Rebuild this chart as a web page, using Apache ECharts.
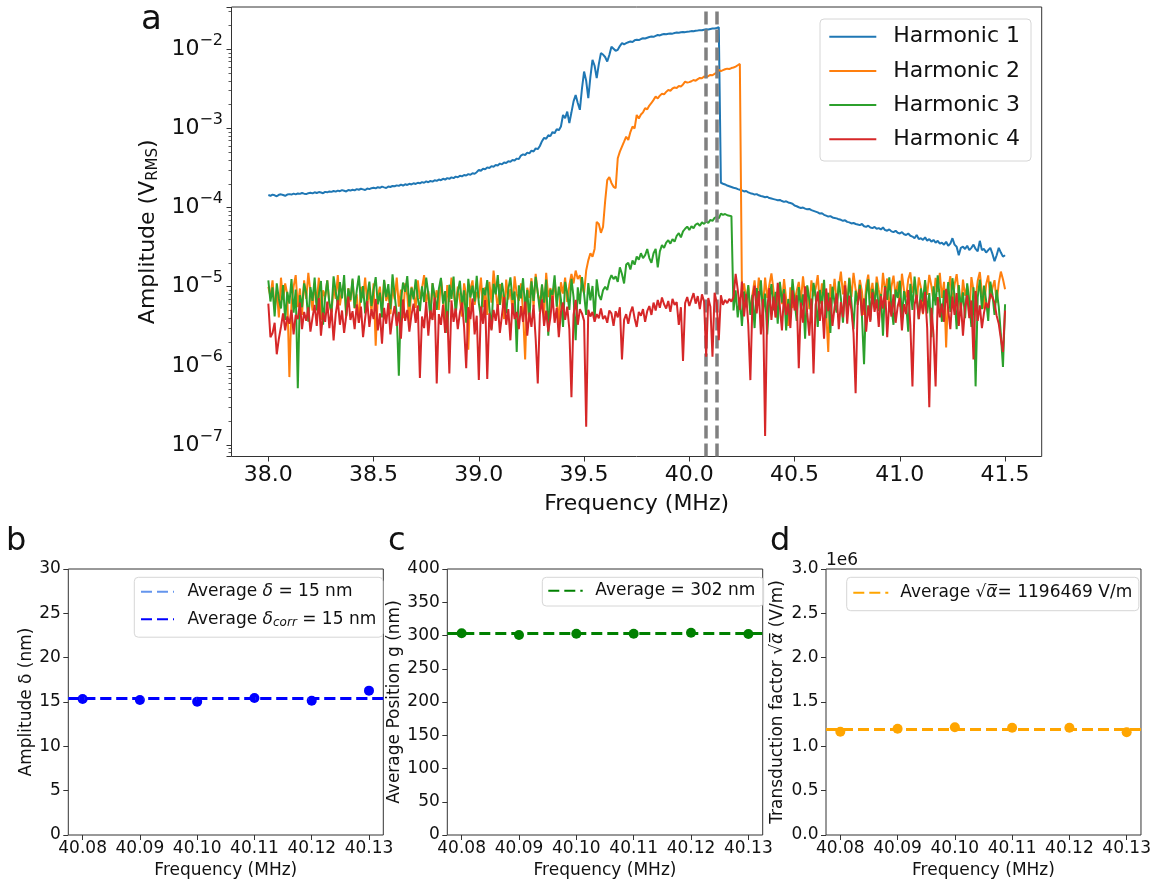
<!DOCTYPE html>
<html><head><meta charset="utf-8">
<script src="https://cdn.jsdelivr.net/npm/echarts@6/dist/echarts.min.js"></script>
<style>html,body{margin:0;padding:0;background:#fff}#c{width:1154px;height:884px}</style>
</head><body><div id="c"></div><script>
// ---------- Panel a: frequency sweep (38.00 .. 41.50 MHz, step 0.01), amplitudes in µV_RMS ----------
const freqStart = 38.0;
const freqStep = 0.01;
const harmonicNames = ['Harmonic 1', 'Harmonic 2', 'Harmonic 3', 'Harmonic 4'];
const h1 = [
144,141,146,143,139,145,147,144,141,146,
148,146,150,147,151,149,153,150,148,152,
154,151,156,153,157,155,152,158,156,160,
158,162,159,164,161,166,163,160,167,164,
168,165,171,168,173,170,167,174,171,176,
178,175,181,178,184,180,177,185,182,188,
186,191,188,195,190,197,193,200,196,203,
199,206,203,210,206,214,209,217,213,221,
218,226,222,231,226,236,231,241,236,246,
242,252,248,258,254,265,260,272,268,280,
300,292,310,305,322,316,334,328,346,340,
360,352,372,366,386,380,400,394,416,410,
455,470,462,495,485,525,512,560,548,600,
690,760,740,820,800,900,870,980,950,1060,
1480,1350,1630,1170,1600,2200,2650,2100,1720,3200,
5240,4000,2410,4500,7360,6200,4320,6500,8950,8600,
8000,7010,8500,10800,10200,9600,9860,11000,11970,11600,
12000,12300,12600,12400,13000,13200,13100,13500,13800,13700,
14000,14300,14500,14400,14800,15200,15000,15400,15600,15500,
15700,15900,15800,16100,16300,16200,16400,16600,16500,16700,
16800,17000,16900,17200,17300,17500,17400,17700,17900,17800,
18100,18300,18400,18600,19000,206,200,196,190,186,
182,178,176,171,168,165,160,162,156,152,
150,146,148,143,140,138,135,137,132,130,
128,126,124,125,121,118,120,116,114,112,
106,104,101,99,100,97,95,96,93,91,
89,87,84,85,81,79,77,78,75,74,
73,71,70,68,69,66,65,63,64,62,
61,60,62,58,57,59,56,55,57,54,
55,53,56,52,51,53,50,49,51,48,
47,49,46,45,47,44,43,41,45,40,
41,39,42,38,40,37,39,36,38,35,
36,34,37,33,35,41,34,32,25,31,
32,30,33,29,31,34,30,28,38,29,
30,27,29,31,26,21,25,31,27,24,
25];
const h2 = [
10,7.5,12,5.2,9,4.1,13,6.8,11,8,
0.72,6,10,14,5.5,9.5,4.4,12,7,15,
8.5,5,11,6.2,13,3.8,9,7.4,12,6,
4.6,10,7,14,5.8,8.8,11,4.2,9.6,6.5,
12,5.3,8,3.5,10,7.2,13,6,9,4.8,
11,1.8,7.6,10,5,12,6.6,8.4,4.5,9.8,
6.9,13,5.6,9.2,4,11,7.8,3.6,10,8.2,
5.4,12,7,9.5,14,6.2,8.8,4.6,11,6.7,
9,5.1,12.5,7.3,3.2,10.5,6.4,13,8,5.7,
10,6.8,4.2,11,7.7,1.6,9.3,12,5.9,8.6,
7.1,13,5.5,9.8,4.4,11.5,6.3,16,8.9,5.2,
10.8,7.5,3.9,12.3,6.9,9.4,5,13.5,8.1,6.6,
11,4.8,1.2,9.7,7.2,12.8,5.6,14.5,8.3,6.1,
10.2,4.3,15,7.4,9.6,5.8,12,6.7,3.4,11.4,
8.2,13,6.4,10.5,14.5,11,16,12.5,14,10,
8.3,16,21.5,26.5,24,30,66,62,48,57,
120,222,243,205,183,176,420,510,590,680,
787,715,900,1055,1000,1480,1340,1500,1600,1800,
1750,1950,2100,2300,2530,2400,2600,2750,2700,2900,
3070,3000,3200,3300,3250,3450,3400,3600,3910,3800,
3850,3950,4100,4000,4200,4350,4300,4530,4450,4600,
4750,4700,4900,5100,5500,5300,5450,5600,5700,5650,
5800,5900,6060,6300,6550,8.3,11,6.8,10,4.6,
8,12,6.2,13,9.5,5.5,13,7.2,10.5,14.7,
9,4.1,8.5,11,6,12.5,7,3.2,9.8,5.4,
6.6,8.8,11.5,6.5,13.5,7.8,10,5.2,12,7.6,
9.4,14,6.1,11,8.2,4.9,1.5,10.8,7,12.6,
6.3,9.9,15.5,8,11.8,5.7,13,7.4,15,9.2,
6.8,12.2,8.7,4.4,10.4,14.2,7.1,11.2,5.9,13.4,
9.1,6.4,15,8.3,12.7,4.8,10,13.8,7.5,11.6,
5.6,14.6,9,7.3,12.4,15.2,8.4,10.9,6.2,13.1,
9.7,4.5,11.3,7.9,14.1,10.2,6.6,12.9,8.6,15,
7.2,11.5,1.7,9.3,13.6,6,10.6,14.4,8.1,5,
12.3,7.7,10.1,4.3,13.2,9,6.9,11.9,15.3,8.5,
5.3,10.7,13.9,7,9.6,12.1,6.3,11.1,15.5,12.4,
9.3];
const h3 = [
12,6.5,9.8,4.2,11,7,5.3,10.5,3.8,8.6,
6.1,12.5,4.7,9.2,0.52,7.8,5.5,11,8.3,3.6,
9.9,6.6,13,5,8.1,11.8,3.3,7.5,12,6.2,
4.8,13.5,8.7,5.9,11.4,7.1,14,4.3,9.5,6.8,
12.7,5.4,8.9,13.8,6.3,10.2,4.6,7.7,11.6,5.7,
9.1,13.2,6,8.4,4.1,12.2,7.4,10.8,5.2,14.3,
7.9,4.5,0.75,6.7,11.3,8.6,13.6,5.6,9.7,6.9,
12.4,7.2,4.9,10.1,6.4,13,8.2,3.9,11.1,7.6,
5.1,9.4,12.9,6.1,8.8,2.6,10.6,7,13.4,4.4,
8.5,11.9,5.8,9,3.5,12.6,7.3,10.3,6.5,13.7,
6.2,4,9.6,7.8,12.1,5.5,2.9,10.9,8,14,
5.9,11.2,7.5,4.6,9.3,13.1,6.8,8.7,1.5,10.4,
7.1,12.8,5.3,9.1,3.7,11.7,6.6,13.3,8.4,4.8,
10.7,6.3,12.3,2.4,9.2,7.9,13.9,5.6,10,6.9,
3.1,11.5,8.3,5.1,12.6,7.4,2.1,9.8,6,13.2,
8.1,4.4,11.1,6.7,10.2,3.9,12.4,7.9,6.8,9,
10,9.1,12,14,12.5,13.5,11.5,17.6,14.5,11,
19,20,16.5,21.5,19,24,22,26.5,23,25,
30,23,20,26.5,30,17.6,28,33.5,31,36,
38.7,35,40,37,44,47.5,42,50,54,57.5,
52,58,55,61,63,59,65,62,67,64,
70,68,74,76.5,73,84,81,83,80,79,
78,5,9,4.1,7.3,3.2,8.7,5.5,10.5,4.4,
7.9,3,9.6,5.8,12,4.6,8.2,2.5,6.7,10.8,
5,8.6,3.4,11.5,6.3,9.3,2.8,7,4.2,12.5,
6.6,3.7,9.9,5.3,8,2.2,10.4,6.9,4.5,11.2,
7.6,3.1,9.1,5.7,12.2,4,8.4,2.6,10,6.2,
4.7,11.7,7.1,3.5,9.7,5.2,12.8,6.4,2.9,8.9,
5.9,10.6,4.3,1.05,7.8,12.4,3.8,9.4,6,11.3,
4.9,8.1,2.4,10.2,6.8,13.1,5.5,3.3,9.2,7.2,
11.9,4.1,8.8,6.1,2.7,10.9,5.1,13.4,7.5,3.9,
9.5,6.5,12.1,4.6,8.3,2.3,10.1,5.8,13.9,7,
3.6,9,6.3,11.4,4.8,12.8,7.7,2.9,10.5,5.4,
8.5,4,11,6.6,3.1,9.8,0.55,7.3,12.3,5.2,
10.3,6.7,3.7,11.6,8,4.4,9.1,5.6,2.5,0.97,
6];
const h4 = [
6.1,2.3,2.6,3.5,1.4,2.2,3.1,4.6,2.8,4.2,
3.4,5.1,2.5,4.4,3.9,6.3,2.9,4.8,3.7,5.5,
2.7,4.1,5.9,3.2,7.2,2.4,4.7,3.6,6.5,3,
5.3,2.1,4.5,6.8,3.3,5,2.6,4.3,7.5,3.8,
4.9,2.9,6,3.5,5.6,2.3,4,6.6,3.1,5.2,
3.9,7,2.8,4.6,1.9,5.4,3.4,6.2,2.5,4.1,
5.7,3.2,4.8,2.2,6.9,3.7,5.1,2.7,4.4,6.1,
3.5,5.8,0.7,4.2,3,6.4,2.4,5,3.8,7.3,
0.6,4.5,3.3,5.9,2.6,4.9,0.8,6.7,3.6,5.3,
2.9,4.7,6.3,3.1,0.93,5.5,3.9,7.1,2.5,4.3,
0.66,5.6,3.4,6.8,0.68,4.6,2.8,5.1,3.7,6,
2.6,4.4,7.4,3.3,5.2,2.1,6.2,3.9,4.8,2.9,
5.7,3.6,6.5,2.4,4.7,3.1,5.9,2.2,0.6,4.5,
6.9,3.2,5,2.7,4.1,7.7,3.5,5.4,2.3,4.8,
6.3,3.8,5.6,2.9,0.4,4.4,6.8,3.3,5.2,4.6,
3.7,0.17,5.1,4.2,4.8,3.6,4.5,4,5.3,3.9,
4.3,3.5,5,4.6,3.2,4.9,4.1,5.5,1.2,3.8,
4.5,3.4,4.7,5.6,4,3.1,4.8,4.3,5.2,3.6,
4.9,5.7,4.4,6.3,5,6.8,5.4,7.3,6,5.3,
6.6,4.8,7,5.9,6.4,3.3,5.5,1.15,6.2,7.4,
5.7,6.9,8.3,6.1,7.6,5.2,8,6.5,1.3,7.2,
5.6,1.3,8.4,6.3,2.1,7.8,5.9,6.8,6.2,7,
6.5,7.4,14.5,9.2,5.1,11.6,4.2,8.1,3.3,0.66,
6.7,10.3,4.6,8.8,2.5,7,0.13,5.3,9.6,3.8,
7.5,4.1,11.2,5.6,2.8,8.2,4.4,6.1,3,9,
5,7.8,0.93,6.3,3.5,10.1,4.7,2.4,7.1,0.8,
5.9,8.7,3.7,6.6,2.2,9.5,4.9,7.3,3.2,5.5,
8.2,2.9,6.4,4.1,10.4,3.4,7.7,5.1,2.6,0.45,
6.2,9.3,4.3,7.1,2.7,5.8,3.6,8.5,4.8,6.9,
3.1,7.6,5.3,9.9,2.3,6.5,4.2,8,3.5,5.7,
7.2,2.8,6,4.5,9.1,3.3,0.55,5.9,7.9,3.9,
6.8,4.6,8.6,3,0.3,5.4,2.5,0.55,7.4,4.1,
6.1,3.6,9.4,5.1,2.9,7.5,4.4,8.3,3.2,6.3,
2.4,5.6,7.8,4,6.7,1.2,8.8,3.7,5.8,3,
4.7,6.3,5.4,8.1,7.4,6.2,4.3,3.4,2.2,1.5,
5];
const markedFreqs = [40.08, 40.13];          // dashed vertical markers (MHz)
const topXTicks = [38.0, 38.5, 39.0, 39.5, 40.0, 40.5, 41.0, 41.5];

// ---------- Panels b, c, d ----------
const fitFreqs = [40.08, 40.09, 40.10, 40.11, 40.12, 40.13];
const amplitudeDelta = [15.34, 15.23, 15.04, 15.45, 15.15, 16.28];   // nm
const avgDelta = 15.41;
const avgDeltaCorr = 15.41;
const avgPositionG = [303.3, 300.8, 302.7, 302.7, 304.2, 302.3];     // nm
const avgG = 302.7;
const transduction = [1165000, 1199000, 1215000, 1210000, 1210000, 1158000]; // V/m
const avgAlpha = 1196469;

// ---------- build ----------
const FONT = 'DejaVu Sans';
const TXT = '#111';
const AX = '#333';
const colors = ['#1f77b4', '#ff7f0e', '#2ca02c', '#d62728'];
const freq = h1.map((_, i) => +(freqStart + i * freqStep).toFixed(2));
const pairs = arr => arr.map((v, i) => [freq[i], v * 1e-6]);
const harmonics = [h1, h2, h3, h4];

const chart = echarts.init(document.getElementById('c'), null, {renderer: 'canvas'});

function bottomX(gi) {
  return {
    type: 'value', gridIndex: gi, min: 40.0775, max: 40.1325,
    axisLine: {show: false}, splitLine: {show: false},
    axisTick: {show: true, customValues: fitFreqs, length: 5, lineStyle: {color: AX}},
    axisLabel: {customValues: fitFreqs, formatter: v => v.toFixed(2), fontSize: 17, fontFamily: FONT, color: TXT, margin: 5},
    name: 'Frequency (MHz)', nameLocation: 'middle', nameGap: 27,
    nameTextStyle: {fontSize: 17, fontFamily: FONT, color: TXT}
  };
}
function bottomY(gi, max, interval, name, gap, fmt, rich) {
  return {
    type: 'value', gridIndex: gi, min: 0, max: max, interval: interval,
    axisLine: {show: false}, splitLine: {show: false},
    axisTick: {show: true, length: 5, lineStyle: {color: AX}},
    axisLabel: {fontSize: 17, fontFamily: FONT, color: TXT, margin: 7.5, formatter: fmt},
    name: name, nameLocation: 'middle', nameGap: gap,
    nameTextStyle: {fontSize: 17, fontFamily: FONT, color: TXT, rich: rich || {}}
  };
}
const gridStyle = {show: true, borderColor: AX, borderWidth: 1, backgroundColor: 'rgba(0,0,0,0)', containLabel: false};
const legendBox = {backgroundColor: 'rgba(255,255,255,0.8)', borderColor: '#d6d6d6', borderWidth: 1, borderRadius: 4,
  itemStyle: {opacity: 0}};

const supStyle = {fontSize: 16, fontFamily: FONT, color: TXT, padding: [0, 0, 17, 0], verticalAlign: 'middle'};
const baseStyle = {fontSize: 22, fontFamily: FONT, color: TXT, verticalAlign: 'middle'};

const series = [];
harmonics.forEach((h, k) => {
  series.push({
    name: harmonicNames[k], type: 'line', xAxisIndex: 0, yAxisIndex: 0,
    data: pairs(h), showSymbol: false, symbol: 'none', color: colors[k],
    lineStyle: {width: 2, color: colors[k]}, z: 2 + k, animation: false
  });
});
series.push({
  name: 'markers', type: 'line', xAxisIndex: 0, yAxisIndex: 0, data: [], z: 10,
  markLine: {symbol: 'none', silent: true, animation: false, label: {show: false},
    lineStyle: {color: '#808080', width: 3.5, type: [13, 5]},
    data: markedFreqs.map(f => ({xAxis: f}))}
});
// panel b
const dashB = [11, 5];
series.push({name: 'dAvg', type: 'line', xAxisIndex: 1, yAxisIndex: 1, data: [], color: '#6495ED',
  lineStyle: {color: '#6495ED', width: 3, type: dashB}, symbol: 'none',
  markLine: {symbol: 'none', silent: true, animation: false, label: {show: false},
    lineStyle: {color: '#6495ED', width: 3, type: dashB}, data: [{yAxis: avgDelta}]}});
series.push({name: 'dCorr', type: 'line', xAxisIndex: 1, yAxisIndex: 1, data: [], color: '#0000ff',
  lineStyle: {color: '#0000ff', width: 3, type: dashB}, symbol: 'none',
  markLine: {symbol: 'none', silent: true, animation: false, label: {show: false},
    lineStyle: {color: '#0000ff', width: 3, type: dashB}, data: [{yAxis: avgDeltaCorr}]}});
series.push({name: 'dPts', type: 'scatter', xAxisIndex: 1, yAxisIndex: 1, symbolSize: 10,
  itemStyle: {color: '#0000ff', opacity: 1}, data: fitFreqs.map((f, i) => [f, amplitudeDelta[i]])});
// panel c
series.push({name: 'gAvg', type: 'line', xAxisIndex: 2, yAxisIndex: 2, data: [], color: '#008000',
  lineStyle: {color: '#008000', width: 3, type: dashB}, symbol: 'none',
  markLine: {symbol: 'none', silent: true, animation: false, label: {show: false},
    lineStyle: {color: '#008000', width: 3, type: dashB}, data: [{yAxis: avgG}]}});
series.push({name: 'gPts', type: 'scatter', xAxisIndex: 2, yAxisIndex: 2, symbolSize: 10,
  itemStyle: {color: '#008000', opacity: 1}, data: fitFreqs.map((f, i) => [f, avgPositionG[i]])});
// panel d
series.push({name: 'aAvg', type: 'line', xAxisIndex: 3, yAxisIndex: 3, data: [], color: '#ffa500',
  lineStyle: {color: '#ffa500', width: 3, type: dashB}, symbol: 'none',
  markLine: {symbol: 'none', silent: true, animation: false, label: {show: false},
    lineStyle: {color: '#ffa500', width: 3, type: dashB}, data: [{yAxis: avgAlpha}]}});
series.push({name: 'aPts', type: 'scatter', xAxisIndex: 3, yAxisIndex: 3, symbolSize: 10,
  itemStyle: {color: '#ffa500', opacity: 1}, data: fitFreqs.map((f, i) => [f, transduction[i]])});

const italicRich = {
  i: {fontStyle: 'italic', fontSize: 17, fontFamily: FONT, color: TXT},
  s: {fontStyle: 'italic', fontSize: 12, fontFamily: FONT, color: TXT, padding: [8, 0, 0, 0]}
};

const option = {
  animation: false,
  backgroundColor: '#fff',
  textStyle: {fontFamily: FONT},
  grid: [
    Object.assign({left: 231.5, top: 7, width: 810.2, height: 449.5}, gridStyle),
    Object.assign({left: 68.3, top: 569, width: 315, height: 266}, gridStyle),
    Object.assign({left: 447.3, top: 569, width: 315.4, height: 266}, gridStyle),
    Object.assign({left: 826, top: 569, width: 315.7, height: 266}, gridStyle)
  ],
  xAxis: [
    {
      type: 'value', gridIndex: 0, min: 37.825, max: 41.674,
      axisLine: {show: false}, splitLine: {show: false},
      axisTick: {show: true, customValues: topXTicks, length: 5, lineStyle: {color: AX}},
      axisLabel: {customValues: topXTicks, formatter: v => v.toFixed(1), fontSize: 22, fontFamily: FONT, color: TXT, margin: 8},
      name: 'Frequency (MHz)', nameLocation: 'middle', nameGap: 37,
      nameTextStyle: {fontSize: 22, fontFamily: FONT, color: TXT}
    },
    bottomX(1), bottomX(2), bottomX(3)
  ],
  yAxis: [
    {
      type: 'log', logBase: 10, gridIndex: 0, min: 7.14e-8, max: 0.0343,
      axisLine: {show: false}, splitLine: {show: false},
      axisTick: {show: true, length: 5, lineStyle: {color: AX}},
      minorTick: {show: true, splitNumber: 9, length: 3, lineStyle: {color: AX, width: 0.8}},
      axisLabel: {
        margin: 8.5,
        formatter: v => {
          const e = Math.log10(v), r = Math.round(e);
          if (Math.abs(e - r) > 1e-6) return '';
          return '{b|10}{sup|\u2212' + (-r) + '}';
        },
        rich: {b: baseStyle, sup: supStyle}
      },
      name: '{n|Amplitude (V}{s|RMS}{n|)}', nameLocation: 'middle', nameGap: 63,
      nameTextStyle: {rich: {
        n: {fontSize: 22, fontFamily: FONT, color: TXT, verticalAlign: 'middle'},
        s: {fontSize: 15, fontFamily: FONT, color: TXT, padding: [9, 0, 0, 0], verticalAlign: 'middle'}
      }}
    },
    bottomY(1, 30, 5, 'Amplitude \u03b4 (nm)', 33.5),
    bottomY(2, 400, 50, 'Average Position g (nm)', 44.5),
    bottomY(3, 3000000, 500000, 'Transduction factor \u221a{i|\u03b1\u0305} (V/m)', 39.5, v => (v / 1e6).toFixed(1), italicRich)
  ],
  legend: [
    Object.assign({
      data: harmonicNames, orient: 'vertical', left: 820, top: 19,
      padding: [6.7, 11, 10.7, 8.3], itemWidth: 47, itemHeight: 14, itemGap: 12.2,
      textStyle: {fontSize: 22, fontFamily: FONT, color: TXT, lineHeight: 22, padding: [0, 0, 0, 12]}
    }, legendBox),
    Object.assign({
      data: ['dAvg', 'dCorr'], orient: 'vertical', left: 134.3, top: 577.3,
      padding: [5.9, 6.7, 7.9, 5.7], itemWidth: 33, itemHeight: 12, itemGap: 10.6,
      formatter: n => n === 'dAvg' ? 'Average {i|\u03b4} = 15 nm' : 'Average {i|\u03b4}{s|corr} = 15 nm',
      textStyle: {fontSize: 17, fontFamily: FONT, color: TXT, lineHeight: 17, padding: [0, 0, 0, 8.4], rich: italicRich}
    }, legendBox),
    Object.assign({
      data: ['gAvg'], orient: 'vertical', left: 542.3, top: 577.3,
      padding: [4.9, 8.3, 6.8, 5], itemWidth: 34.4, itemHeight: 12,
      formatter: () => 'Average = 302 nm',
      textStyle: {fontSize: 17, fontFamily: FONT, color: TXT, lineHeight: 17, padding: [0, 0, 0, 7.6]}
    }, legendBox),
    Object.assign({
      data: ['aAvg'], orient: 'vertical', left: 846.7, top: 577.3,
      padding: [6.9, 6.6, 9.5, 5.6], itemWidth: 35, itemHeight: 12,
      formatter: () => 'Average \u221a{i|\u03b1\u0305}= 1196469 V/m',
      textStyle: {fontSize: 17, fontFamily: FONT, color: TXT, lineHeight: 17, padding: [0, 0, 0, 7], rich: italicRich}
    }, legendBox)
  ],
  graphic: [
    {type: 'text', left: 141, top: 3, style: {text: 'a', font: '34px "DejaVu Sans"', fill: TXT}},
    {type: 'text', left: 6, top: 526, style: {text: 'b', font: '32px "DejaVu Sans"', fill: TXT}},
    {type: 'text', left: 388, top: 526, style: {text: 'c', font: '32px "DejaVu Sans"', fill: TXT}},
    {type: 'text', left: 770, top: 526, style: {text: 'd', font: '32px "DejaVu Sans"', fill: TXT}},
    {type: 'text', left: 826, top: 552, style: {text: '1e6', font: '17px "DejaVu Sans"', fill: TXT}}
  ],
  series: series
};
chart.setOption(option);
</script></body></html>
